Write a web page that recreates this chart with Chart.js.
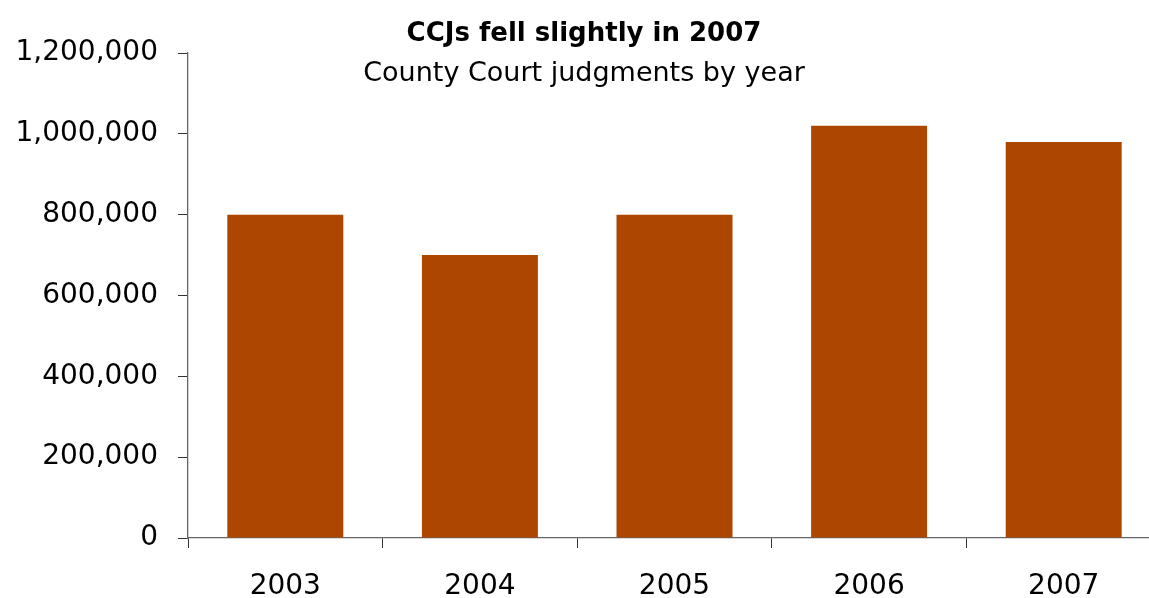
<!DOCTYPE html>
<html>
<head>
<meta charset="utf-8">
<script src="https://cdn.jsdelivr.net/npm/chart.js@4/dist/chart.umd.min.js"></script>
<style>
  html, body { margin: 0; padding: 0; background: #fff; overflow: hidden; }
  #wrap { width: 1165px; height: 598px; }
</style>
</head>
<body>
<div id="wrap"><canvas id="ccjChart" width="1165" height="598"></canvas></div>
<script>
// === Dados ===
const years = ["2003", "2004", "2005", "2006", "2007"];
const judgments = [800000, 700000, 800000, 1020000, 980000];
const yTicks = [0, 200000, 400000, 600000, 800000, 1000000, 1200000];

const titleText = "CCJs fell slightly in 2007";
const subtitleText = "County Court judgments by year";

const font = "'DejaVu Sans', 'Liberation Sans', Arial, sans-serif";

// titles drawn over the plot, like the original
const titlePlugin = {
  id: "titles",
  afterDraw(chart) {
    const c = chart.ctx;
    c.save();
    c.fillStyle = "#000";
    c.textAlign = "center";
    c.textBaseline = "middle";
    c.font = "bold 26px " + font;
    c.fillText(titleText, 584, 34);
    c.font = "27px " + font;
    c.fillText(subtitleText, 584, 74);
    c.restore();
  },
};

const ctx = document.getElementById("ccjChart").getContext("2d");

new Chart(ctx, {
  type: "bar",
  data: {
    labels: years,
    datasets: [
      {
        label: "County Court judgments",
        data: judgments,
        backgroundColor: "#AC4600",
        borderWidth: 0,
        categoryPercentage: 1,
        barPercentage: 0.596,
      },
    ],
  },
  options: {
    responsive: false,
    animation: false,
    layout: { padding: { top: 53, right: 4, left: 0, bottom: 0 } },
    plugins: {
      legend: { display: false },
      tooltip: { enabled: false },
      title: { display: false },
    },
    scales: {
      x: {
        grid: {
          drawOnChartArea: false,
          drawTicks: true,
          tickLength: 10,
          color: "#333",
        },
        border: { display: true, color: "#666", width: 1.3 },
        ticks: {
          color: "#000",
          font: { family: font, size: 28 },
          padding: 22,
        },
        afterFit: (scale) => { scale.height = 60; },
      },
      y: {
        min: 0,
        max: 1200000,
        afterBuildTicks: (scale) => {
          scale.ticks = yTicks.map((v) => ({ value: v }));
        },
        grid: {
          drawOnChartArea: false,
          drawTicks: true,
          tickLength: 10,
          color: "#333",
        },
        border: { display: true, color: "#666", width: 1.3 },
        ticks: {
          color: "#000",
          font: { family: font, size: 28 },
          padding: 20,
          callback: (v) => v.toLocaleString("en-GB"),
        },
        afterFit: (scale) => { scale.width = 188; },
      },
    },
  },
  plugins: [titlePlugin],
});
</script>
</body>
</html>
